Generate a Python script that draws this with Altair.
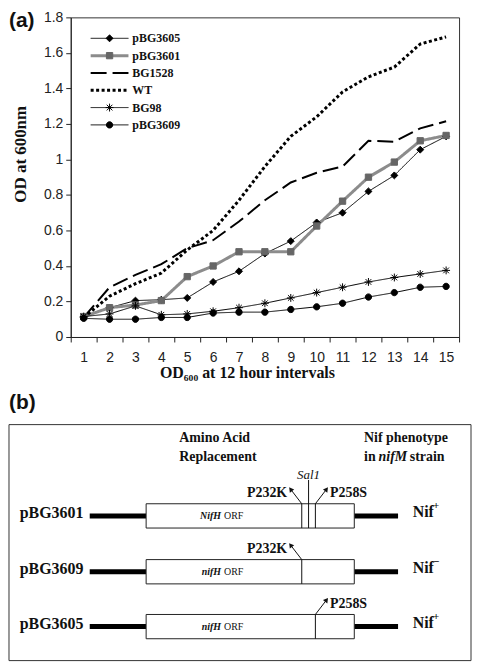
import altair as alt
import pandas as pd
import numpy as np

# ---------------- panel (a): values ----------------
intervals = list(range(1, 16))
series_names = ["pBG3605", "pBG3601", "BG1528", "WT", "BG98", "pBG3609"]

pBG3605 = [0.11, 0.165, 0.205, 0.21, 0.22, 0.31, 0.37, 0.47, 0.54, 0.645, 0.70, 0.82, 0.91, 1.055, 1.13]
pBG3601 = [0.115, 0.165, 0.18, 0.205, 0.34, 0.40, 0.48, 0.48, 0.48, 0.625, 0.765, 0.90, 0.985, 1.105, 1.135]
BG1528 = [0.11, 0.28, 0.35, 0.41, 0.50, 0.545, 0.65, 0.77, 0.87, 0.925, 0.96, 1.105, 1.10, 1.175, 1.215]
WT = [0.11, 0.23, 0.30, 0.36, 0.49, 0.60, 0.77, 0.96, 1.13, 1.24, 1.38, 1.465, 1.52, 1.65, 1.69]
BG98 = [0.115, 0.13, 0.175, 0.125, 0.13, 0.145, 0.165, 0.19, 0.22, 0.25, 0.28, 0.31, 0.335, 0.355, 0.375]
pBG3609 = [0.105, 0.10, 0.10, 0.11, 0.11, 0.135, 0.14, 0.14, 0.155, 0.17, 0.19, 0.225, 0.25, 0.28, 0.285]

y_ticks = [0, 0.2, 0.4, 0.6, 0.8, 1, 1.2, 1.4, 1.6, 1.8]
x_title = "OD\u2086\u2080\u2080 at 12 hour intervals"
y_title = "OD at 600nm"

# ---------------- panel (b): schematic content ----------------
constructs = ["pBG3601", "pBG3609", "pBG3605"]
nif_sign = ["+", "\u2212", "+"]
orf_gene = ["NifH", "nifH", "nifH"]
construct_mutations = [["P232K", "P258S"], ["P232K"], ["P258S"]]
site_label = "Sal1"

# ---------------- styles ----------------
SERIF = "Liberation Serif"
SANS = "Liberation Sans"
ASTERISK = "M-1.25,0H1.25M0,-1.25V1.25M-0.9,-0.9L0.9,0.9M-0.9,0.9L0.9,-0.9"
DIAMOND = "M0,-1.1L1.1,0L0,1.1L-1.1,0Z"
CIRCLE = "M1,0A1,1 0 1,1 -1,0A1,1 0 1,1 1,0Z"

line_colors = ["#000000", "#8c8c8c", "#000000", "#000000", "#000000", "#000000"]
line_dashes = [[1, 0], [1, 0], [16, 6], [3, 2.5], [1, 0], [1, 0]]
line_widths = [1, 3, 2, 3, 1, 1]
marker_series = ["pBG3605", "pBG3601", "BG98", "pBG3609"]
marker_shapes = [DIAMOND, "square", ASTERISK, CIRCLE]
marker_colors = ["#000000", "#666666", "#000000", "#000000"]

values = dict(zip(series_names, [pBG3605, pBG3601, BG1528, WT, BG98, pBG3609]))
df = pd.DataFrame(
    [{"series": s, "interval": x, "od": v} for s in series_names for x, v in zip(intervals, values[s])]
)

x_tick_values = sorted(set([i - 0.5 for i in intervals] + intervals + [15.5]))

x_scale = alt.Scale(domain=[0.5, 15.5], nice=False, zero=False)
y_scale = alt.Scale(domain=[0, 1.8], nice=False)

x_axis = alt.Axis(
    values=x_tick_values,
    labelExpr="datum.value % 1 === 0 ? '' + datum.value : ''",
    tickOpacity={"condition": {"test": "datum.value % 1 === 0", "value": 0}, "value": 1},
    tickSize=5, tickColor="#222", domainColor="#222",
    labelFont=SANS, labelFontSize=14, labelColor="#222", labelPadding=9,
    labelOverlap=False, labelFlush=False, grid=False,
    title=x_title, titleFont=SERIF, titleFontSize=16, titleFontWeight="bold", titleColor="#111",
    titleX=177, titleY=36, titleBaseline="middle", titleAlign="center",
)
y_axis = alt.Axis(
    values=y_ticks, format="~g",
    tickSize=5, tickColor="#222", domainColor="#222",
    labelFont=SANS, labelFontSize=14, labelColor="#222", labelPadding=3, grid=False,
    title=y_title, titleFont=SERIF, titleFontSize=17, titleFontWeight="bold", titleColor="#111",
    titleX=-50, titleY=137, titleAngle=270, titleBaseline="middle", titleAlign="center",
)

X = alt.X("interval:Q", scale=x_scale, axis=x_axis)
Y = alt.Y("od:Q", scale=y_scale, axis=y_axis)

color_scale = alt.Scale(domain=series_names, range=line_colors)
dash_scale = alt.Scale(domain=series_names, range=line_dashes)
width_scale = alt.Scale(type="ordinal", domain=series_names, range=line_widths)
shape_scale = alt.Scale(domain=marker_series, range=marker_shapes)
mcolor_scale = alt.Scale(domain=marker_series, range=marker_colors)

line_enc = dict(
    color=alt.Color("series:N", scale=color_scale, legend=None),
    strokeDash=alt.StrokeDash("series:N", scale=dash_scale, legend=None),
    strokeWidth=alt.StrokeWidth("series:N", scale=width_scale, legend=None),
)
mark_enc = dict(
    shape=alt.Shape("series:N", scale=shape_scale, legend=None),
    fill=alt.Fill("series:N", scale=mcolor_scale, legend=None),
    stroke=alt.Stroke("series:N", scale=mcolor_scale, legend=None),
)

lines = alt.Chart(df).mark_line().encode(x=X, y=Y, **line_enc)
points = alt.Chart(df).transform_filter(
    alt.FieldOneOfPredicate(field="series", oneOf=marker_series)
).mark_point(filled=True, opacity=1, size=40, strokeWidth=1).encode(x=X, y=Y, **mark_enc)

# hand-drawn legend inside the plot (layout in data units)
leg = pd.DataFrame({"series": series_names})
leg["od"] = [1.682 - 0.0975 * i for i in range(len(series_names))]
leg_line = leg.assign(interval=1.27, interval_end=2.73)
leg_mark = leg[leg["series"].isin(marker_series)].assign(interval=2.0)
leg_lab = leg.assign(interval=2.88)

leg_rules = alt.Chart(leg_line).mark_rule().encode(x=X, x2="interval_end:Q", y=Y, **line_enc)
leg_points = alt.Chart(leg_mark).mark_point(filled=True, opacity=1, size=40, strokeWidth=1).encode(
    x=X, y=Y, **mark_enc)
leg_text = alt.Chart(leg_lab).mark_text(
    align="left", baseline="middle", font=SERIF, fontSize=12, fontWeight="bold", color="#111"
).encode(x=X, y=Y, text="series:N")

label_a = alt.Chart(pd.DataFrame({"t": ["(a)"]})).mark_text(
    align="left", baseline="top", font=SANS, fontSize=21, fontWeight="bold", color="#111"
).encode(x=alt.value(-62), y=alt.value(-7), text="t:N")

panel_a = alt.layer(lines, points, leg_rules, leg_points, leg_text, label_a).properties(
    width=390, height=321
)

# ---------------- panel (b) layout (reference pixel units) ----------------
frame_x = (2, 477)
frame_y = (425, 668)
row_y = [519, 576.5, 633]
flank_l = (85, 143)
orf_span = (143, 357)
flank_r = (357, 402)
box_half = 12.5
mut_x = {"P232K": 303, "P258S": 317}
mut_dir = {"P232K": -1, "P258S": 1}
site_x, site_top = 310, 482

bx = alt.Scale(domain=list(frame_x), range=[-62, 402], nice=False, zero=False)
by = alt.Scale(domain=list(frame_y), range=[0, 237], nice=False, zero=False)
BX = lambda f: alt.X(f, scale=bx, axis=None)
BY = lambda f: alt.Y(f, scale=by, axis=None)

frame = pd.DataFrame([{"x": frame_x[0], "x2": frame_x[1], "y": frame_y[0], "y2": frame_y[1]}])
flanks = pd.DataFrame(
    [{"x": a, "x2": b, "y": y} for y in row_y for (a, b) in (flank_l, flank_r)]
)
orfs = pd.DataFrame(
    [{"x": orf_span[0], "x2": orf_span[1], "y": y - box_half, "y2": y + box_half} for y in row_y]
)
mut_lines = [{"x": mut_x[m], "y": y - box_half, "y2": y + box_half}
             for y, ms in zip(row_y, construct_mutations) for m in ms]
mut_lines.append({"x": site_x, "y": site_top, "y2": row_y[0] + box_half})
mut_lines = pd.DataFrame(mut_lines)

arrows = []
for y, ms in zip(row_y, construct_mutations):
    for m in ms:
        x0, y0 = mut_x[m], y - box_half
        x1, y1 = x0 + mut_dir[m] * 11.5, y0 - 15
        ang = (np.degrees(np.arctan2(x1 - x0, -(y1 - y0))) + 360) % 360
        arrows.append({"x": x0, "y": y0, "x2": x1, "y2": y1, "angle": ang,
                       "t": m, "tx": x0 + mut_dir[m] * 15, "ty": y0 - 11, "dir": mut_dir[m]})
arrows = pd.DataFrame(arrows)

frame_layer = alt.Chart(frame).mark_rect(fill="white", stroke="#333", strokeWidth=1).encode(
    x=BX("x:Q"), x2="x2:Q", y=BY("y:Q"), y2="y2:Q")
flank_layer = alt.Chart(flanks).mark_rule(color="black", strokeWidth=5).encode(
    x=BX("x:Q"), x2="x2:Q", y=BY("y:Q"))
orf_layer = alt.Chart(orfs).mark_rect(fill="white", stroke="#222", strokeWidth=1).encode(
    x=BX("x:Q"), x2="x2:Q", y=BY("y:Q"), y2="y2:Q")
mut_layer = alt.Chart(mut_lines).mark_rule(color="#111", strokeWidth=1).encode(
    x=BX("x:Q"), y=BY("y:Q"), y2="y2:Q")
arrow_layer = alt.Chart(arrows).mark_rule(color="#111", strokeWidth=1).encode(
    x=BX("x:Q"), y=BY("y:Q"), x2="x2:Q", y2="y2:Q")
head_layer = alt.Chart(arrows).mark_point(shape="triangle-up", filled=True, color="#111",
                                          opacity=1, size=30).encode(
    x=BX("x2:Q"), y=BY("y2:Q"), angle=alt.Angle("angle:Q", scale=None))


def txt(d, **kw):
    return alt.Chart(pd.DataFrame(d)).mark_text(**kw).encode(
        x=BX("x:Q"), y=BY("y:Q"), text="t:N")


bold16 = dict(font=SERIF, fontSize=16, fontWeight="bold", color="#111", baseline="middle")
bold14 = dict(font=SERIF, fontSize=14, fontWeight="bold", color="#111", baseline="middle")

t_constructs = txt({"t": constructs, "x": [13] * 3, "y": [y - 3 for y in row_y]}, align="left", **bold16)
t_nif = txt({"t": ["Nif"] * 3, "x": [417] * 3, "y": [y - 4 for y in row_y]}, align="left", **bold16)
t_sign = txt({"t": nif_sign, "x": [438] * 3, "y": [y - 10 for y in row_y]}, align="left",
             font=SERIF, fontSize=11, fontWeight="bold", color="#111", baseline="middle")
t_head_l = txt({"t": ["Amino Acid", "Replacement", "Nif phenotype", "in", "strain"],
                "x": [177, 177, 367, 367, 414], "y": [439, 458, 439, 458, 458]},
               align="left", **bold14)
t_head_it = txt({"t": ["nifM"], "x": [382], "y": [458]}, align="left", fontStyle="italic", **bold14)
left_m = arrows[arrows["dir"] < 0]
right_m = arrows[arrows["dir"] > 0]
t_mut_l = txt({"t": left_m["t"].tolist(), "x": left_m["tx"].tolist(), "y": left_m["ty"].tolist()},
              align="right", **bold14)
t_mut_r = txt({"t": right_m["t"].tolist(), "x": right_m["tx"].tolist(), "y": right_m["ty"].tolist()},
              align="left", **bold14)
t_site = txt({"t": [site_label], "x": [site_x], "y": [477]}, align="center", font=SERIF,
             fontSize=13, fontStyle="italic", color="#111", baseline="middle")
t_gene = txt({"t": orf_gene, "x": [220] * 3, "y": row_y}, align="right", font=SERIF,
             fontSize=10, fontStyle="italic", fontWeight="bold", color="#111", baseline="middle")
t_orf = txt({"t": ["ORF"] * 3, "x": [223] * 3, "y": row_y}, align="left", font=SERIF,
            fontSize=10, color="#111", baseline="middle")
t_b = txt({"t": ["(b)"], "x": [frame_x[0]], "y": [403]}, align="left", font=SANS, fontSize=21,
          fontWeight="bold", color="#111", baseline="middle")

panel_b = alt.layer(
    frame_layer, flank_layer, orf_layer, mut_layer, arrow_layer, head_layer,
    t_constructs, t_nif, t_sign, t_head_l, t_head_it, t_mut_l, t_mut_r, t_site, t_gene, t_orf, t_b,
).properties(width=402, height=237, view=alt.ViewBackground(stroke="transparent"))

chart = alt.vconcat(panel_a, panel_b, spacing=10).properties(padding=0).configure_view(
    stroke="#333", strokeWidth=1)

chart.save("out.html", embed_options={"renderer": "svg", "actions": False})
